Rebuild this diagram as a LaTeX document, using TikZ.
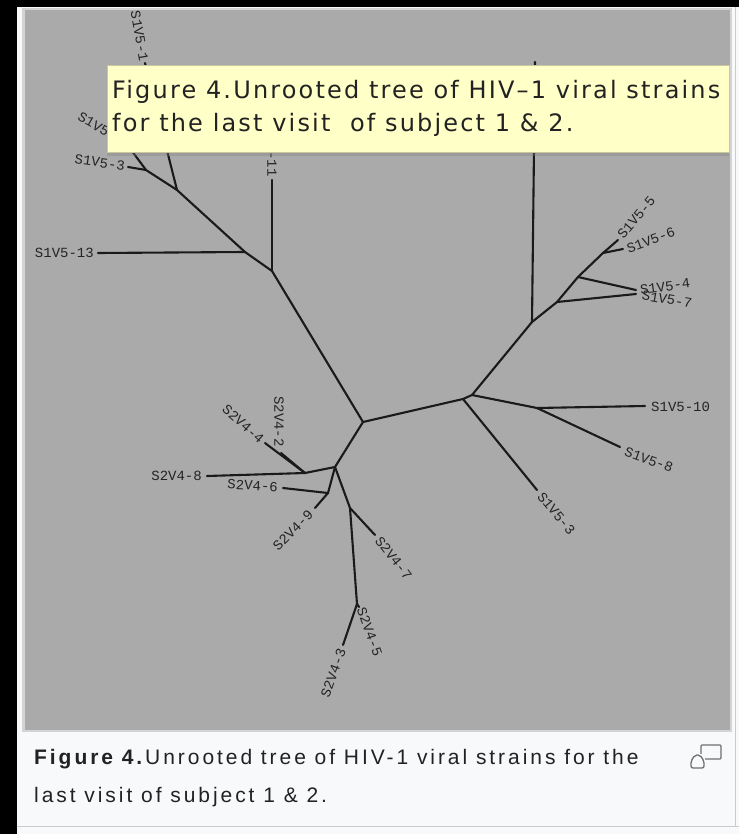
\documentclass[tikz,border=0pt]{standalone}
\usepackage{fontspec}
\usepackage{graphicx}
\setmainfont{Liberation Sans}
\newfontfamily\tipfont[LetterSpace=9]{DejaVu Sans}
\newfontfamily\lblfont{Liberation Mono}
\newfontfamily\capfont[LetterSpace=14]{Liberation Sans}
\usetikzlibrary{shadows}
\definecolor{panel}{HTML}{F8F9FA}
\definecolor{panelline}{HTML}{C8CCD1}
\definecolor{imgedge}{HTML}{D4D4D4}
\definecolor{imggray}{HTML}{AAAAAA}
\definecolor{tipfill}{HTML}{FFFFC8}
\definecolor{tipline}{HTML}{C8C89A}
\definecolor{ink}{HTML}{1A1A1A}
\definecolor{lblink}{HTML}{242424}
\definecolor{capink}{HTML}{222222}
\definecolor{iconink}{HTML}{707070}
\begin{document}
\begin{tikzpicture}[x=1pt,y=-1pt,
  branch/.style={draw=ink,line width=2.1pt,line cap=round,line join=round},
  lbl/.style={font=\lblfont\fontsize{14}{14}\selectfont,text=lblink,inner sep=0pt},
  tiptext/.style={font=\tipfont\fontsize{24}{24}\selectfont,text=capink,inner sep=0pt,anchor=base west},
  captext/.style={font=\capfont\fontsize{21}{21}\selectfont,text=capink,inner sep=0pt,anchor=base west},
]
% background and frame
\fill[black] (0,0) rectangle (739,834);
\useasboundingbox (0,0) rectangle (739,834);
\fill[panel] (17,7) rectangle (739,834);
\draw[panelline,line width=1pt] (17,826) -- (739,826);
\draw[panelline,line width=1pt] (735,7) -- (735,826);
\fill[imgedge] (22,8) rectangle (732,732);
\fill[imggray] (25,10) rectangle (730,730);

% ---------- tree coordinates ----------
\coordinate (A) at (177,190);
\coordinate (N1) at (146,170);
\coordinate (lS3) at (128,167);
\coordinate (lS2) at (126,143);
\coordinate (lTop) at (145,63);
\coordinate (B) at (245,252);
\coordinate (l13) at (98,253);
\coordinate (C) at (272,271);
\coordinate (lC) at (272,180);
\coordinate (D) at (363,422);
\coordinate (E1) at (463,399);
\coordinate (E2) at (472,395);
\coordinate (F) at (532,322);
\coordinate (lF) at (535,62);
\coordinate (H1) at (557,302);
\coordinate (H2) at (578,277);
\coordinate (H3) at (603,253);
\coordinate (l5) at (618,240);
\coordinate (l6) at (623,249);
\coordinate (l4) at (636,290);
\coordinate (l7) at (636,294);
\coordinate (G) at (537,408);
\coordinate (l10) at (645,406);
\coordinate (l8) at (620,447);
\coordinate (l3b) at (537,490);
\coordinate (I) at (335,467);
\coordinate (J) at (305,473);
\coordinate (l4b) at (265,443);
\coordinate (l2) at (281,453);
\coordinate (l8b) at (207,476);
\coordinate (K) at (328,493);
\coordinate (l6b) at (283,488);
\coordinate (l9) at (315,508);
\coordinate (L) at (350,508);
\coordinate (l7b) at (375,535);
\coordinate (M) at (357,604);
\coordinate (l3c) at (343,645);
\coordinate (l5b) at (359,607);

% ---------- branches ----------
\draw[branch] (A) -- (lTop);
\draw[branch] (A) -- (N1);
\draw[branch] (N1) -- (lS3);
\draw[branch] (N1) -- (lS2);
\draw[branch] (A) -- (B) -- (C) -- (D);
\draw[branch] (B) -- (l13);
\draw[branch] (C) -- (lC);
\draw[branch] (D) -- (E1) -- (E2);
\draw[branch] (E2) -- (F);
\draw[branch] (F) -- (lF);
\draw[branch] (F) -- (H1) -- (H2) -- (H3) -- (l5);
\draw[branch] (H3) -- (l6);
\draw[branch] (H2) -- (l4);
\draw[branch] (H1) -- (l7);
\draw[branch] (E2) -- (G);
\draw[branch] (G) -- (l10);
\draw[branch] (G) -- (l8);
\draw[branch] (E1) -- (l3b);
\draw[branch] (D) -- (I);
\draw[branch] (I) -- (J);
\draw[branch] (J) -- (l4b);
\draw[branch] (J) -- (l2);
\draw[branch] (J) -- (l8b);
\draw[branch] (I) -- (K);
\draw[branch] (K) -- (l6b);
\draw[branch] (K) -- (l9);
\draw[branch] (I) -- (L);
\draw[branch] (L) -- (l7b);
\draw[branch] (L) -- (M);
\draw[branch] (M) -- (l3c);
\draw[branch] (M) -- (l5b);

% ---------- leaf labels ----------
\node[lbl,anchor=east,rotate=-80] (tTop) at (144,61) {S1V5-1};
\node[lbl,anchor=east,rotate=-30] (tS2) at (123,141) {S1V5-2};
\node[lbl,anchor=east,rotate=-8] (tS3) at (125,166) {S1V5-3};
\node[lbl,anchor=east] (t13) at (94,253) {S1V5-13};
\node[lbl,anchor=east,rotate=-90] (tC) at (272,177) {S1V5-11};
\node[lbl,anchor=west,rotate=50] (t5) at (620,237) {S1V5-5};
\node[lbl,anchor=west,rotate=20] (t6) at (627,249) {S1V5-6};
\node[lbl,anchor=west,rotate=8] (t4) at (640,290) {S1V5-4};
\node[lbl,anchor=west,rotate=-10] (t7) at (642,295) {S1V5-7};
\node[lbl,anchor=west] (t10) at (651,407) {S1V5-10};
\node[lbl,anchor=west,rotate=-20] (t8) at (625,451) {S1V5-8};
\node[lbl,anchor=west,rotate=-50] (t3b) at (540,494) {S1V5-3};
\node[lbl,anchor=east,rotate=-42] (t4b) at (262,441) {S2V4-4};
\node[lbl,anchor=east,rotate=-90] (t2) at (279,447) {S2V4-2};
\node[lbl,anchor=east] (t8b) at (202,476) {S2V4-8};
\node[lbl,anchor=east,rotate=-3] (t6b) at (278,487) {S2V4-6};
\node[lbl,anchor=east,rotate=45] (t9) at (311,512) {S2V4-9};
\node[lbl,anchor=west,rotate=-52] (t7b) at (378,538) {S2V4-7};
\node[lbl,anchor=east,rotate=70] (t3c) at (342,649) {S2V4-3};
\node[lbl,anchor=west,rotate=-70] (t5b) at (361,608) {S2V4-5};

% ---------- tooltip ----------
\path[fill=tipfill,draw=tipline,line width=0.6pt,
  drop shadow={opacity=0.35,shadow xshift=0pt,shadow yshift=-4pt}]
  (107,65) rectangle (729,152);
\node[tiptext] (tip1) at (112,99) {Figure 4.Unrooted tree of HIV–1 viral strains};
\node[tiptext] (tip2) at (112,132) {for the last visit\ \ of subject 1 \& 2.};

% ---------- caption ----------
\node[captext] (cap1) at (34,764) {\textbf{Figure 4.}Unrooted tree of HIV-1 viral strains for the};
\node[captext] (cap2) at (34,802) {last visit of subject 1 \& 2.};
% enlarge icon
\draw[iconink,line width=1.3pt,rounded corners=1pt] (701,745) rectangle (721,759);
\fill[panel] (690,754) rectangle (705,769);
\draw[iconink,line width=1.3pt,rounded corners=2pt] (691,768) -- (691,761) -- (695,755) -- (700,755) -- (704,761) -- (704,768) -- cycle;
\end{tikzpicture}
\end{document}
